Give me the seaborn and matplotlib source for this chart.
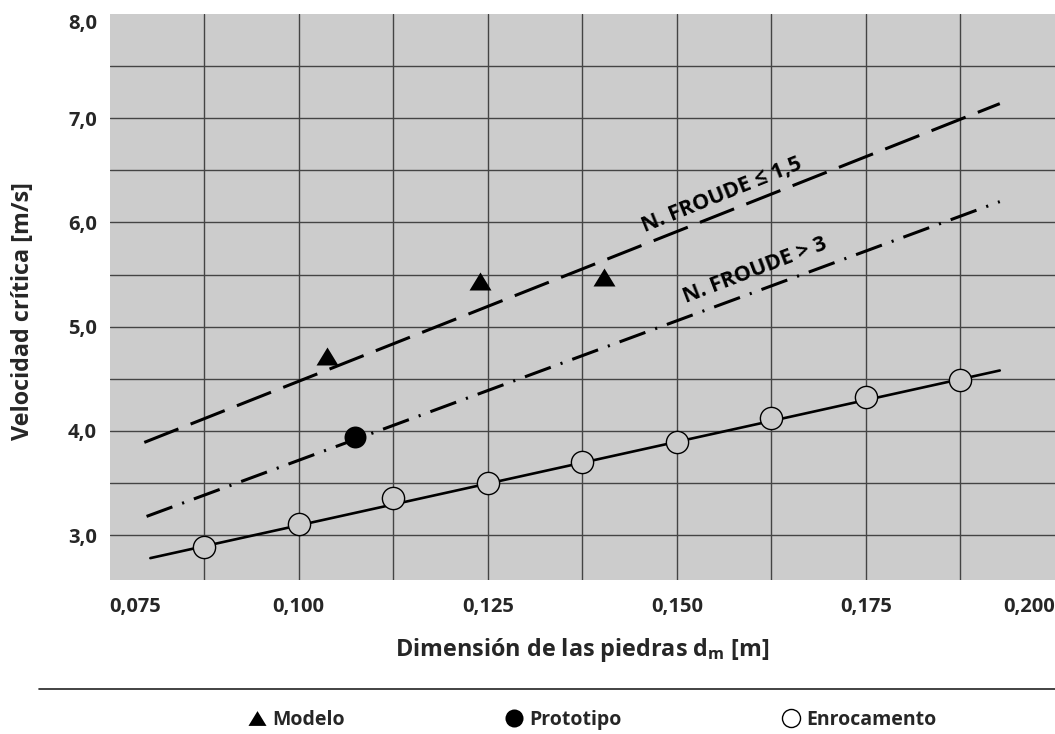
import matplotlib
matplotlib.use("Agg")
import matplotlib.pyplot as plt
import seaborn as sns
from matplotlib.lines import Line2D
from matplotlib.ticker import FixedLocator

# ---------------- data ----------------
d_enroc = [0.0875, 0.1000, 0.1125, 0.1250, 0.1375, 0.1500, 0.1625, 0.1750, 0.1875]
v_enroc = [2.89, 3.11, 3.36, 3.50, 3.70, 3.89, 4.12, 4.33, 4.49]
d_enroc_fit = [0.0804, 0.1927]
v_enroc_fit = [2.78, 4.58]

d_modelo = [0.1037, 0.1240, 0.1404]
v_modelo = [4.72, 5.44, 5.48]

d_proto = [0.1074]
v_proto = [3.94]

d_froude_low = [0.0796, 0.1927]
v_froude_low = [3.89, 7.14]
d_froude_high = [0.0799, 0.1927]
v_froude_high = [3.18, 6.20]

x_ticks = [0.075, 0.100, 0.125, 0.150, 0.175, 0.200]
x_ticklabels = ["0,075", "0,100", "0,125", "0,150", "0,175", "0,200"]
y_ticks = [3.0, 4.0, 5.0, 6.0, 7.0, 8.0]
y_ticklabels = ["3,0", "4,0", "5,0", "6,0", "7,0", "8,0"]
x_grid = [0.0875, 0.1000, 0.1125, 0.1250, 0.1375, 0.1500, 0.1625, 0.1750, 0.1875]
y_grid = [3.0, 3.5, 4.0, 4.5, 5.0, 5.5, 6.0, 6.5, 7.0, 7.5]

label_froude_low = "N. FROUDE ≤ 1,5"
label_froude_high = "N. FROUDE > 3"
legend_labels = ["Modelo", "Prototipo", "Enrocamento"]

# ---------------- style ----------------
sns.set_style("white")
plt.rcParams["font.family"] = ["Open Sans", "DejaVu Sans"]
plt.rcParams["font.weight"] = "bold"
plt.rcParams["mathtext.fontset"] = "custom"
plt.rcParams["mathtext.rm"] = "Open Sans:bold"
plt.rcParams["mathtext.it"] = "Open Sans:bold"

BG = "#cccccc"
W, H = 1055, 734
fig = plt.figure(figsize=(W / 100, H / 100), dpi=100)
fig.patch.set_facecolor("white")
ax = fig.add_axes([109.5 / W, 1 - 580 / H, 1 - 109.5 / W, (580 - 14) / H])
ax.set_facecolor(BG)
for s in ax.spines.values():
    s.set_visible(False)

ax.set_xlim(0.075, 0.200)
ax.set_ylim(2.57, 8.0)

# grid on minor ticks only (keep minor ticks that coincide with majors)
ax.xaxis.remove_overlapping_locs = False
ax.yaxis.remove_overlapping_locs = False
ax.xaxis.set_major_locator(FixedLocator(x_ticks))
ax.yaxis.set_major_locator(FixedLocator(y_ticks))
ax.xaxis.set_minor_locator(FixedLocator(x_grid))
ax.yaxis.set_minor_locator(FixedLocator(y_grid))
ax.grid(False, which="major")
ax.grid(True, which="minor", color="#444444", linewidth=1.0)
ax.set_axisbelow(True)
ax.tick_params(which="both", length=0)
ax.tick_params(axis="x", pad=12)
ax.tick_params(axis="y", pad=9)

ax.set_xticklabels(x_ticklabels, fontsize=14.5, fontweight="bold")
ax.set_yticklabels(y_ticklabels, fontsize=14.5, fontweight="bold")
xl = ax.get_xticklabels()
xl[0].set_ha("left")
xl[-1].set_ha("right")
yl = ax.get_yticklabels()
yl[-1].set_va("top")

# ---------------- lines ----------------
sns.lineplot(x=d_froude_low, y=v_froude_low, ax=ax, color="black", linewidth=2.2)
ax.lines[-1].set_dashes((12, 4.3))
ax.lines[-1].set_dash_capstyle("butt")

sns.lineplot(x=d_froude_high, y=v_froude_high, ax=ax, color="black", linewidth=2.2)
ax.lines[-1].set_dashes((9, 3.4, 0.7, 3.4))
ax.lines[-1].set_dash_capstyle("butt")

sns.lineplot(x=d_enroc_fit, y=v_enroc_fit, ax=ax, color="black", linewidth=1.9)

# ---------------- markers ----------------
tri = [(0, 0.82), (-1, -0.82), (1, -0.82)]
sns.scatterplot(x=d_enroc, y=v_enroc, ax=ax, marker="o", s=16 ** 2,
                color=BG, edgecolor="black", linewidth=1.0, zorder=3)
sns.scatterplot(x=d_modelo, y=v_modelo, ax=ax, marker=tri, s=250,
                color="black", linewidth=0, zorder=3)
sns.scatterplot(x=d_proto, y=v_proto, ax=ax, marker="o", s=250,
                color="black", linewidth=0, zorder=3)

# ---------------- annotations ----------------
ax.text(0.156, 6.26, label_froude_low, rotation=22, rotation_mode="anchor",
        ha="center", va="center", fontsize=15.5, fontweight="bold", color="black",
        family=["Open Sans", "DejaVu Sans"])
ax.text(0.1603, 5.54, label_froude_high, rotation=21, rotation_mode="anchor",
        ha="center", va="center", fontsize=15.5, fontweight="bold", color="black",
        family=["Open Sans", "DejaVu Sans"])

# ---------------- axis labels ----------------
ax.set_xlabel(r"Dimensión de las piedras d$_\mathrm{m}$ [m]", fontsize=16.8,
              fontweight="bold", va="center")
ax.xaxis.set_label_coords(0.5, -(650 - 580) / 566)
ax.set_ylabel("Velocidad crítica [m/s]", fontsize=16.8, fontweight="bold", va="center")
ax.yaxis.set_label_coords((23 - 109.5) / 945.5, (580 - 311) / 566)

# ---------------- separator & legend ----------------
fig.add_artist(Line2D([39 / W, 1.0], [1 - 689 / H, 1 - 689 / H],
                      transform=fig.transFigure, color="#222222", linewidth=1.2))

handles = [
    Line2D([], [], ls="none", marker=tri, color="black", markersize=13, markeredgewidth=0),
    Line2D([], [], ls="none", marker="o", color="black", markersize=13, markeredgewidth=0),
    Line2D([], [], ls="none", marker="o", markerfacecolor="white", markeredgecolor="black",
           markersize=13, markeredgewidth=1.0),
]
fig.legend(handles, legend_labels, loc="center", bbox_to_anchor=(592 / W, 1 - 720 / H),
           ncol=3, frameon=False, columnspacing=8.2, handletextpad=0.3,
           handlelength=1.0, prop={"size": 14, "weight": "bold"})

fig.savefig("out.png", dpi=100)
